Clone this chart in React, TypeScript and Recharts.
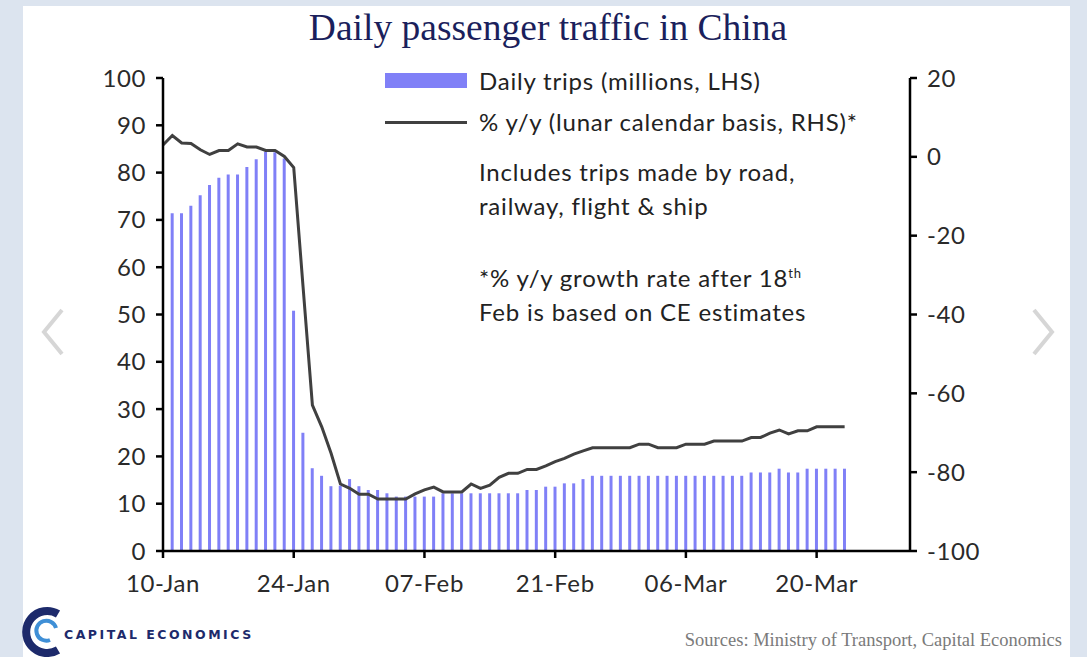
import { ComposedChart, Bar, Line, XAxis, YAxis } from 'recharts';

// day index 0 = 10-Jan-2020
const tickDays = [0, 14, 28, 42, 56, 70];
const tickLabels = ['10-Jan', '24-Jan', '07-Feb', '21-Feb', '06-Mar', '20-Mar'];
const leftTicks = [0, 10, 20, 30, 40, 50, 60, 70, 80, 90, 100];
const rightTicks = [-100, -80, -60, -40, -20, 0, 20];

// Daily trips (millions, LHS) - no bar on 10-Jan
const dailyTrips = [
  null, 71.4, 71.4, 73, 75.2, 77.4, 78.9, 79.6, 79.6, 81.2,
  82.8, 84.4, 84.3, 83, 50.8, 25, 17.5, 15.9, 13.7, 13.8,
  15.2, 13.7, 12.9, 12.9, 12.2, 11.5, 11.5, 11.5, 11.5, 11.5,
  12.2, 12.2, 12.2, 12.2, 12.2, 12.2, 12.2, 12.2, 12.2, 12.9,
  12.9, 13.6, 13.6, 14.3, 14.3, 15.2, 15.9, 15.9, 15.9, 15.9,
  15.9, 15.9, 15.9, 15.9, 15.9, 15.9, 15.9, 15.9, 15.9, 15.9,
  15.9, 15.9, 15.9, 16.6, 16.6, 16.6, 17.4, 16.6, 16.6, 17.4,
  17.4, 17.4, 17.4, 17.4,
];

// % y/y (lunar calendar basis, RHS)
const yoyGrowth = [
  3.0, 5.4, 3.5, 3.4, 1.8, 0.6, 1.6, 1.6, 3.3, 2.5,
  2.5, 1.6, 1.6, 0.1, -2.7, -33, -63, -68.5, -75.2, -83,
  -84.1, -85.6, -85.6, -86.8, -86.8, -86.8, -86.8, -85.5, -84.5, -83.8,
  -85, -85, -85, -83, -84.1, -83.3, -81.3, -80.3, -80.3, -79.3,
  -79.3, -78.4, -77.3, -76.5, -75.4, -74.6, -73.8, -73.8, -73.8, -73.8,
  -73.8, -72.9, -72.9, -73.8, -73.8, -73.8, -72.9, -72.9, -72.9, -72.1,
  -72.1, -72.1, -72.1, -71.2, -71.2, -70.1, -69.3, -70.3, -69.5, -69.5,
  -68.5, -68.5, -68.5, -68.5,
];

const data = yoyGrowth.map((v, i) => ({ day: i, trips: dailyTrips[i], yoy: v }));

const barColor = '#8080f7';
const lineColor = '#404040';
const sansFont = "Lato, 'Open Sans', sans-serif";
const tickStyle = { fill: '#2a2a2a', fontFamily: sansFont, fontSize: 24, letterSpacing: 0.6 };
const axisStroke = { stroke: '#000', strokeWidth: 2.5 };
const textStyle = {
  fontFamily: sansFont,
  fontSize: 24,
  letterSpacing: 0.8,
  color: '#222',
  lineHeight: '34px',
  whiteSpace: 'nowrap' as const,
};

export default function App() {
  return (
    <div style={{ position: 'absolute', left: 0, top: 0, width: 1087, height: 657, background: '#dce4ef', overflow: 'hidden' }}>
      <div style={{ position: 'absolute', left: 23, top: 6, width: 1047, height: 651, background: '#fff' }} />

      <div style={{ position: 'absolute', left: 23, top: 8, width: 1050, textAlign: 'center', fontFamily: "'Liberation Serif', serif", fontSize: 37.5, lineHeight: '40px', color: '#1b1f5c' }}>
        Daily passenger traffic in China
      </div>

      <div style={{ position: 'absolute', left: 0, top: 0 }}>
        <ComposedChart width={1087} height={657} data={data} margin={{ top: 78, right: 97, bottom: 76, left: 83 }}>
          <XAxis
            dataKey="day"
            type="number"
            domain={[0, 80]}
            ticks={tickDays}
            tickFormatter={(v: number) => tickLabels[tickDays.indexOf(v)]}
            tick={tickStyle}
            axisLine={axisStroke}
            tickLine={axisStroke}
            tickSize={7}
            tickMargin={17}
            height={30}
          />
          <YAxis
            yAxisId="left"
            domain={[0, 100]}
            ticks={leftTicks}
            interval={0}
            tick={tickStyle}
            axisLine={axisStroke}
            tickLine={axisStroke}
            tickSize={7}
            tickMargin={10}
            width={80}
          />
          <YAxis
            yAxisId="right"
            orientation="right"
            domain={[-100, 20]}
            ticks={rightTicks}
            interval={0}
            tick={tickStyle}
            axisLine={axisStroke}
            tickLine={axisStroke}
            tickSize={7}
            tickMargin={10}
            width={80}
          />
          <Bar yAxisId="left" dataKey="trips" fill={barColor} barSize={3} isAnimationActive={false} />
          <Line yAxisId="right" dataKey="yoy" type="linear" stroke={lineColor} strokeWidth={3} dot={false} isAnimationActive={false} />
        </ComposedChart>
      </div>

      {/* legend and notes */}
      <div style={{ position: 'absolute', left: 385, top: 73, width: 82, height: 15, background: barColor }} />
      <div style={{ position: 'absolute', left: 385, top: 121, width: 82, height: 3, background: lineColor }} />
      <div style={{ ...textStyle, position: 'absolute', left: 479, top: 64 }}>Daily trips (millions, LHS)</div>
      <div style={{ ...textStyle, position: 'absolute', left: 479, top: 105 }}>% y/y (lunar calendar basis, RHS)*</div>
      <div style={{ ...textStyle, position: 'absolute', left: 479, top: 155 }}>
        Includes trips made by road,<br />railway, flight &amp; ship
      </div>
      <div style={{ ...textStyle, position: 'absolute', left: 479, top: 256 }}>
        *% y/y growth rate after 18<sup style={{ fontSize: 13 }}>th</sup><br />Feb is based on CE estimates
      </div>

      <svg style={{ position: 'absolute', left: 0, top: 0 }} width={1087} height={657}>
        {/* carousel arrows */}
        <polyline points="62,310 44,332 62,354" fill="none" stroke="#d6d6d6" strokeWidth={4} />
        <polyline points="1034,310 1052,332 1034,354" fill="none" stroke="#d6d6d6" strokeWidth={4} />
        {/* logo */}
        <path d="M 58 614 A 21 21 0 1 0 58 650" fill="none" stroke="#1d2a6b" strokeWidth={8} />
        <path d="M 50 640 A 10 10 0 1 1 56 628" fill="none" stroke="#3f8fd6" strokeWidth={4} />
        <text x={64} y={639} fontFamily="'DejaVu Sans', sans-serif" fontWeight="bold" fontSize={12.5} letterSpacing={2.5} fill="#1d2a6b">
          CAPITAL ECONOMICS
        </text>
        <text x={1062} y={646} textAnchor="end" fontFamily="'Liberation Serif', serif" fontSize={18.5} fill="#7a7a7a">
          Sources: Ministry of Transport, Capital Economics
        </text>
      </svg>
    </div>
  );
}
